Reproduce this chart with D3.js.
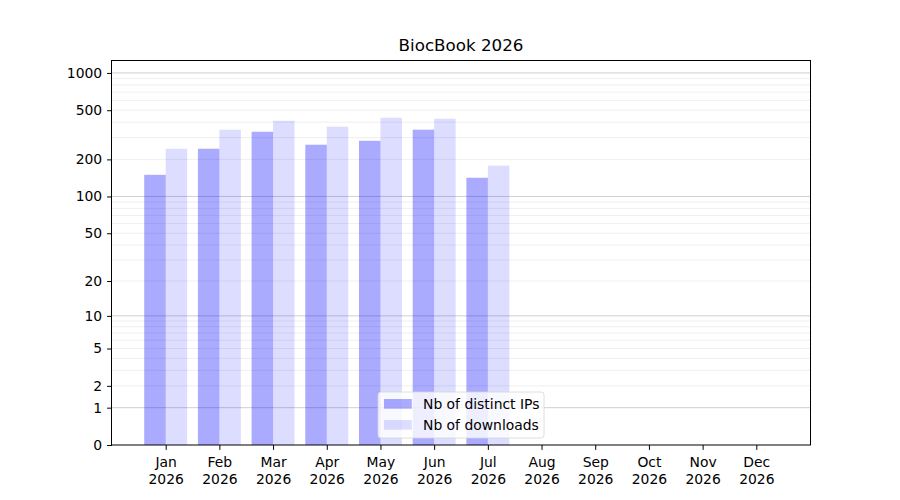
<!DOCTYPE html>
<html>
<head>
<meta charset="utf-8">
<script src="https://cdn.jsdelivr.net/npm/d3@7"></script>
<style>
  body { margin: 0; background: #fff; }
  text { font-family: "DejaVu Sans", sans-serif; fill: #000; }
</style>
</head>
<body>
<div id="chart"></div>
<script>
// data
var months = ["Jan", "Feb", "Mar", "Apr", "May", "Jun", "Jul", "Aug", "Sep", "Oct", "Nov", "Dec"];
var year = "2026";
var distinctIPs = [150, 244, 335, 263, 283, 348, 142];
var downloads = [244, 348, 411, 368, 435, 427, 178];
var yTicks = [0, 1, 2, 5, 10, 20, 50, 100, 200, 500, 1000];
var seriesNames = ["Nb of distinct IPs", "Nb of downloads"];

var margin = {top: 60, right: 90, bottom: 55, left: 112},
    width = 900 - margin.left - margin.right,
    height = 500 - margin.top - margin.bottom;

var svg = d3.select("#chart")
  .append("svg")
    .attr("width", 900)
    .attr("height", 500)
  .append("g")
    .attr("transform", "translate(" + margin.left + "," + margin.top + ")");

// x: month index, one month of padding each side
var x = d3.scaleLinear()
  .domain([-1, months.length])
  .range([0, width]);

// y: log of (value + 1)
var y = d3.scaleLog()
  .domain([1, 1273])
  .range([height, 0]);
function yv(v) { return y(v + 1); }

var barW = x(0.4) - x(0);

// grid lines
var minor = [], major = [1, 10, 100, 1000];
[1, 10, 100].forEach(function(p) {
  for (var k = 2; k <= 9; k++) minor.push(k * p);
});
svg.selectAll(".minor")
  .data(minor)
  .enter()
  .append("line")
    .attr("x1", 0).attr("x2", width)
    .attr("y1", function(d) { return yv(d); })
    .attr("y2", function(d) { return yv(d); })
    .attr("stroke", "#ebebeb")
    .attr("stroke-width", 0.8);
svg.selectAll(".major")
  .data(major)
  .enter()
  .append("line")
    .attr("x1", 0).attr("x2", width)
    .attr("y1", function(d) { return yv(d); })
    .attr("y2", function(d) { return yv(d); })
    .attr("stroke", "#c4c4c4")
    .attr("stroke-width", 0.8);

// bars
svg.selectAll(".ips")
  .data(distinctIPs)
  .enter()
  .append("rect")
    .attr("x", function(d, i) { return x(i - 0.4); })
    .attr("y", function(d) { return yv(d); })
    .attr("width", barW)
    .attr("height", function(d) { return height - yv(d); })
    .attr("fill", "blue")
    .attr("fill-opacity", 0.333);

svg.selectAll(".dl")
  .data(downloads)
  .enter()
  .append("rect")
    .attr("x", function(d, i) { return x(i); })
    .attr("y", function(d) { return yv(d); })
    .attr("width", barW)
    .attr("height", function(d) { return height - yv(d); })
    .attr("fill", "blue")
    .attr("fill-opacity", 0.133);

// Y axis
var yAxis = svg.append("g")
  .call(d3.axisLeft(y)
    .tickValues(yTicks.map(function(v) { return v + 1; }))
    .tickFormat(function(d) { return d - 1; })
    .tickSize(4.9)
    .tickPadding(4.9));
yAxis.selectAll("text").style("font-size", "13.9px");

// X axis
var xAxis = svg.append("g")
  .attr("transform", "translate(0," + height + ")")
  .call(d3.axisBottom(x)
    .tickValues(d3.range(months.length))
    .tickFormat("")
    .tickSize(4.9));
xAxis.selectAll(".tick").append("text")
  .attr("text-anchor", "middle")
  .style("font-size", "13.9px")
  .selectAll("tspan")
  .data(function(d) { return [months[d], year]; })
  .enter()
  .append("tspan")
    .attr("x", 0)
    .attr("y", function(d, i) { return 22 + i * 16.5; })
    .text(function(d) { return d; });

svg.selectAll(".domain").remove();
svg.selectAll(".tick line").attr("stroke", "#000").attr("stroke-width", 1);

// frame
svg.append("rect")
  .attr("x", -0.5)
  .attr("y", 0.5)
  .attr("width", width + 1)
  .attr("height", height - 0.5)
  .attr("fill", "none")
  .attr("stroke", "#000")
  .attr("stroke-width", 1);

// title
svg.append("text")
  .attr("x", width / 2)
  .attr("y", -9)
  .attr("text-anchor", "middle")
  .style("font-size", "16.7px")
  .text("BiocBook 2026");

// legend
var legend = svg.append("g")
  .attr("transform", "translate(266,332)");
legend.append("rect")
  .attr("width", 166)
  .attr("height", 46)
  .attr("rx", 3)
  .attr("fill", "#fff")
  .attr("fill-opacity", 0.8)
  .attr("stroke", "#d6d6d6")
  .attr("stroke-width", 0.8);
var opac = [0.333, 0.133];
seriesNames.forEach(function(name, i) {
  legend.append("rect")
    .attr("x", 6)
    .attr("y", 7 + i * 21)
    .attr("width", 27.8)
    .attr("height", 9.7)
    .attr("fill", "blue")
    .attr("fill-opacity", opac[i]);
  legend.append("text")
    .attr("x", 45)
    .attr("y", 17 + i * 21)
    .style("font-size", "13.9px")
    .text(name);
});
</script>
</body>
</html>
